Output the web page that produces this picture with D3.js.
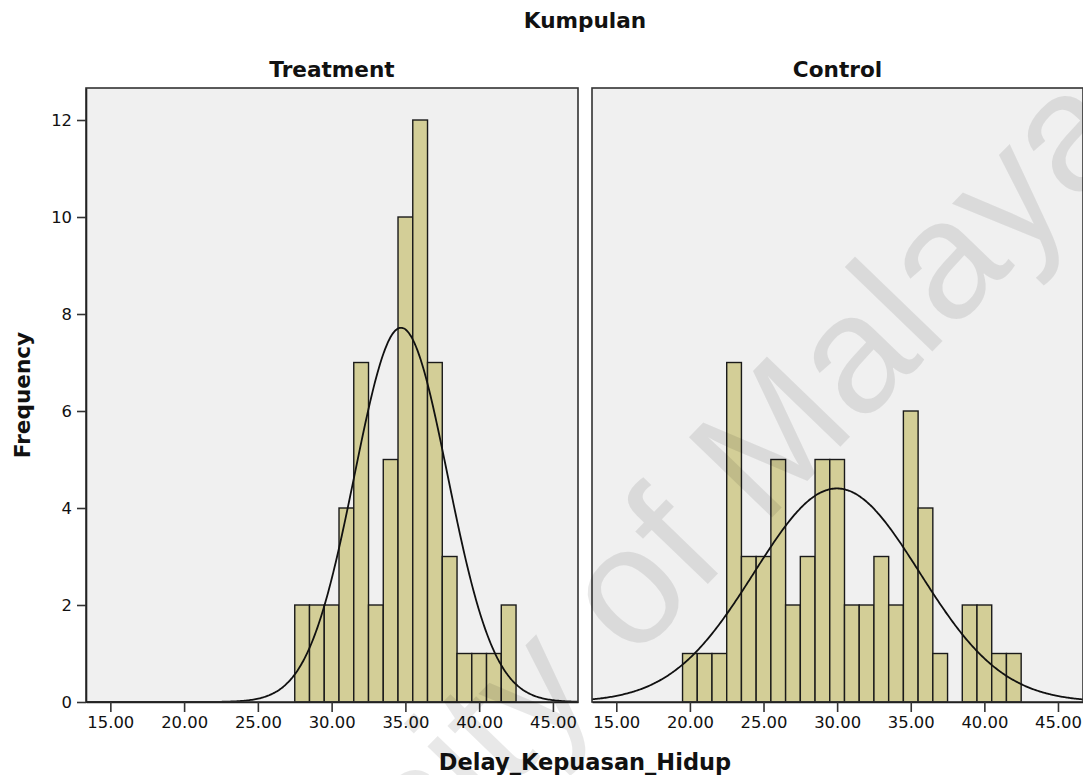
<!DOCTYPE html>
<html>
<head>
<meta charset="utf-8">
<script src="https://cdn.jsdelivr.net/npm/d3@7"></script>
<style>
  html, body { margin: 0; padding: 0; background: #fff; }
  svg { display: block; font-family: "DejaVu Sans", Verdana, sans-serif; }
</style>
</head>
<body>
<svg id="chart" width="1083" height="775"></svg>
<script>
// Histogram bins (midpoints, width 1) and counts per group
const binWidth = 1;
const treatmentMid = [28, 29, 30, 31, 32, 33, 34, 35, 36, 37, 38, 39, 40, 41, 42];
const treatmentCount = [2, 2, 2, 4, 7, 2, 5, 10, 12, 7, 3, 1, 1, 1, 2];
const controlMid = [20, 21, 22, 23, 24, 25, 26, 27, 28, 29, 30, 31, 32, 33, 34, 35, 36, 37, 39, 40, 41, 42];
const controlCount = [1, 1, 1, 7, 3, 3, 5, 2, 3, 5, 5, 2, 2, 3, 2, 6, 4, 1, 2, 2, 1, 1];

const groupNames = ["Treatment", "Control"];
const xTicks = [15, 20, 25, 30, 35, 40, 45];
const yTicks = [0, 2, 4, 6, 8, 10, 12];
const xDomain = [13.35, 46.7];
const yDomain = [0, 12.66];

const groups = [
  { name: groupNames[0], mid: treatmentMid, count: treatmentCount },
  { name: groupNames[1], mid: controlMid, count: controlCount }
];

const svg = d3.select("#chart");
const panelTop = 88, panelBottom = 702;
const panels = [{ x0: 86, x1: 578 }, { x0: 592, x1: 1083 }];
const y = d3.scaleLinear().domain(yDomain).range([panelBottom, panelTop]);

const barFill = "#d3ce97";
const tickFont = 16.4;

groups.forEach((g, i) => {
  const p = panels[i];
  const x = d3.scaleLinear().domain(xDomain).range([p.x0, p.x1]);
  const layer = svg.append("g");

  layer.append("rect")
    .attr("x", p.x0).attr("y", panelTop)
    .attr("width", p.x1 - p.x0).attr("height", panelBottom - panelTop)
    .attr("fill", "#f0f0f0");

  const bins = g.mid.map((m, k) => ({ lo: m - binWidth / 2, hi: m + binWidth / 2, n: g.count[k] }));
  layer.selectAll("rect.bar").data(bins).join("rect")
    .attr("class", "bar")
    .attr("x", d => x(d.lo))
    .attr("width", d => x(d.hi) - x(d.lo))
    .attr("y", d => y(d.n))
    .attr("height", d => y(0) - y(d.n))
    .attr("fill", barFill)
    .attr("stroke", "#1a1a1a")
    .attr("stroke-width", 1.4);

  // fitted normal curve from the binned values
  const n = d3.sum(g.count);
  const mean = d3.sum(g.mid.map((m, k) => m * g.count[k])) / n;
  const variance = d3.sum(g.mid.map((m, k) => (m - mean) ** 2 * g.count[k])) / (n - 1);
  const sd = Math.sqrt(variance);
  const pdf = v => n * binWidth * Math.exp(-0.5 * ((v - mean) / sd) ** 2) / (sd * Math.sqrt(2 * Math.PI));
  const xs = d3.range(0, 401).map(t => xDomain[0] + (xDomain[1] - xDomain[0]) * t / 400);
  layer.append("path")
    .datum(xs)
    .attr("d", d3.line().x(v => x(v)).y(v => y(pdf(v))).curve(d3.curveBasis))
    .attr("fill", "none")
    .attr("stroke", "#111")
    .attr("stroke-width", 1.8);

  // frame
  layer.append("rect")
    .attr("x", p.x0).attr("y", panelTop)
    .attr("width", p.x1 - p.x0).attr("height", panelBottom - panelTop)
    .attr("fill", "none").attr("stroke", "#333").attr("stroke-width", 1.6);

  // x axis
  const xAxis = d3.axisBottom(x).tickValues(xTicks).tickFormat(d3.format(".2f"))
    .tickSizeInner(10).tickSizeOuter(0).tickPadding(4);
  const ax = layer.append("g").attr("transform", `translate(0,${panelBottom})`).call(xAxis);
  ax.select(".domain").attr("stroke", "#222").attr("stroke-width", 1.6);
  ax.selectAll(".tick line").attr("stroke", "#333").attr("stroke-width", 1.6);
  ax.selectAll(".tick text").attr("font-size", tickFont).attr("fill", "#111")
    .attr("font-family", "DejaVu Sans, Verdana, sans-serif");

  // group title
  svg.append("text")
    .attr("x", (p.x0 + p.x1) / 2).attr("y", 77)
    .attr("text-anchor", "middle")
    .attr("font-weight", "bold").attr("font-size", 21.6)
    .attr("fill", "#111")
    .text(g.name);

  if (i === 0) {
    const yAxis = d3.axisLeft(y).tickValues(yTicks).tickSizeInner(9).tickSizeOuter(0).tickPadding(5);
    const ay = layer.append("g").attr("transform", `translate(${p.x0},0)`).call(yAxis);
    ay.select(".domain").attr("stroke", "#222").attr("stroke-width", 1.6);
    ay.selectAll(".tick line").attr("stroke", "#333").attr("stroke-width", 1.6);
    ay.selectAll(".tick text").attr("font-size", tickFont).attr("fill", "#111")
      .attr("font-family", "DejaVu Sans, Verdana, sans-serif");
  }
});

// titles
svg.append("text")
  .attr("x", 585).attr("y", 28)
  .attr("text-anchor", "middle")
  .attr("font-weight", "bold").attr("font-size", 21.6)
  .attr("fill", "#111")
  .text("Kumpulan");

svg.append("text")
  .attr("x", 585).attr("y", 770)
  .attr("text-anchor", "middle")
  .attr("font-weight", "bold").attr("font-size", 22.5)
  .attr("fill", "#111")
  .text("Delay_Kepuasan_Hidup");

svg.append("text")
  .attr("transform", `translate(30,${(panelTop + panelBottom) / 2}) rotate(-90)`)
  .attr("text-anchor", "middle")
  .attr("font-weight", "bold").attr("font-size", 21.6)
  .attr("fill", "#111")
  .text("Frequency");

// diagonal watermark
svg.append("text")
  .attr("transform", "translate(88,1226) rotate(-46)")
  .attr("font-family", "Liberation Sans, Arial, sans-serif")
  .attr("font-size", 168)
  .attr("fill", "#000")
  .attr("fill-opacity", 0.09)
  .style("pointer-events", "none")
  .text("University of Malaya");
</script>
</body>
</html>
